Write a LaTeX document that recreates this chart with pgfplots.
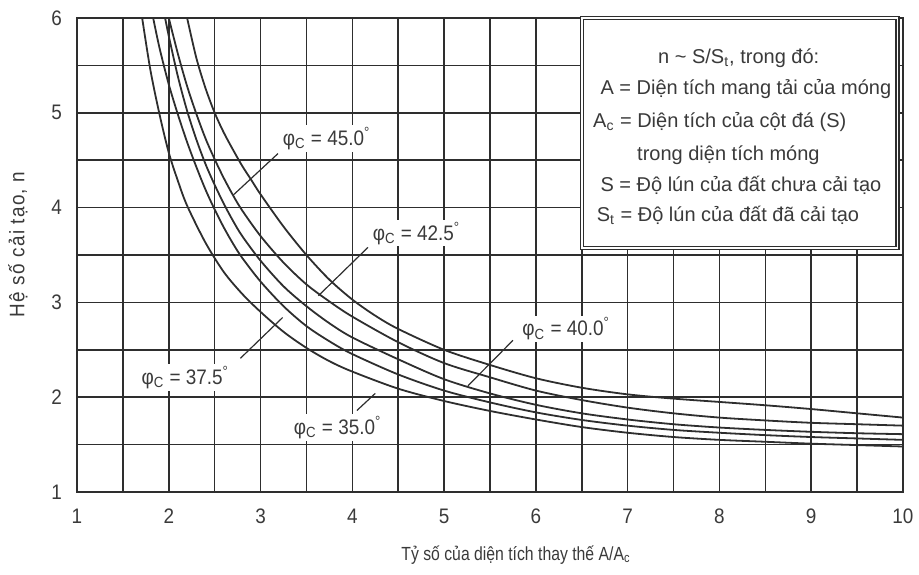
\documentclass[border=0pt]{standalone}
\usepackage{fontspec}
\setmainfont{Liberation Sans}
\newfontfamily\nfont{Liberation Sans}[FakeStretch=0.9]
\newfontfamily\xfont{Liberation Sans}[FakeStretch=0.83]
\newfontfamily\yfont{Liberation Sans}[FakeStretch=0.9, LetterSpace=6]
\usepackage{pgfplots}
\pgfplotsset{compat=1.18}
\definecolor{ink}{HTML}{2E2E2E}
\definecolor{txt}{HTML}{3A3A3A}
\tikzset{curve/.style={ink, line width=0.9pt, smooth, tension=0.5, no markers}}
\begin{document}
\begin{tikzpicture}
\path[use as bounding box] (-38.5pt,-41.25pt) rectangle (421pt,246pt);
\begin{axis}[
  at={(0pt,0pt)}, anchor=south west,
  width=413pt, height=237pt, scale only axis,
  xmin=1, xmax=10, ymin=1, ymax=6,
  xtick={1,...,10}, ytick={1,...,6},
  minor xtick={1.5,2.5,...,9.5}, minor ytick={1.5,2.5,...,5.5},
  grid=both,
  major grid style={line width=0.75pt, draw=ink},
  minor grid style={line width=0.75pt, draw=ink},
  axis line style={line width=0.75pt, draw=ink},
  major tick length=0pt, minor tick length=0pt,
  /pgf/number format/assume math mode=true,
  ticklabel style={font=\nfont\fontsize{10.5}{12}\selectfont, text=txt},
  xticklabel style={yshift=-5pt},
  yticklabel style={xshift=-4pt},
  clip mode=individual,
]
% phi_c = 35.0
\addplot[curve] coordinates {
(1.71,6.0) (1.8,5.45) (1.9,4.98) (2.0,4.58) (2.1,4.28) (2.2,4.02) (2.4,3.63) (2.6,3.32) (2.8,3.09) (3.0,2.90) (3.25,2.69) (3.5,2.52) (3.75,2.38) (4.0,2.27) (4.5,2.09) (5.0,1.96) (5.5,1.855) (6.0,1.765) (6.5,1.685) (7.0,1.625) (7.5,1.58) (8.0,1.55) (8.5,1.53) (9.0,1.51) (9.5,1.495) (10,1.48)};
% phi_c = 37.5
\addplot[curve] coordinates {
(1.83,6.0) (1.9,5.68) (2.0,5.30) (2.1,4.98) (2.2,4.69) (2.3,4.43) (2.4,4.19) (2.5,3.98) (2.6,3.79) (2.7,3.62) (2.8,3.47) (3.0,3.22) (3.25,2.96) (3.5,2.75) (3.75,2.59) (4.0,2.455) (4.5,2.24) (5.0,2.07) (5.5,1.945) (6.0,1.84) (6.5,1.76) (7.0,1.70) (7.5,1.655) (8.0,1.625) (8.5,1.60) (9.0,1.58) (9.5,1.565) (10,1.55)};
% phi_c = 40.0
\addplot[curve] coordinates {
(1.96,6.0) (2.0,5.81) (2.1,5.38) (2.2,5.02) (2.3,4.72) (2.4,4.46) (2.5,4.24) (2.6,4.04) (2.7,3.86) (2.8,3.70) (3.0,3.44) (3.25,3.17) (3.5,2.96) (3.75,2.78) (4.0,2.63) (4.5,2.40) (5.0,2.19) (5.5,2.04) (6.0,1.92) (6.5,1.83) (7.0,1.765) (7.5,1.715) (8.0,1.68) (8.5,1.655) (9.0,1.635) (9.5,1.62) (10,1.61)};
% phi_c = 42.5
\addplot[curve] coordinates {
(2.0,6.0) (2.1,5.62) (2.2,5.28) (2.3,4.99) (2.4,4.73) (2.5,4.51) (2.6,4.31) (2.7,4.13) (2.8,3.97) (3.0,3.70) (3.25,3.42) (3.5,3.19) (3.75,3.01) (4.0,2.85) (4.5,2.58) (5.0,2.36) (5.5,2.21) (6.0,2.07) (6.5,1.97) (7.0,1.89) (7.5,1.83) (8.0,1.785) (8.5,1.755) (9.0,1.73) (9.5,1.715) (10,1.70)};
% phi_c = 45.0
\addplot[curve] coordinates {
(2.2,6.0) (2.3,5.58) (2.4,5.26) (2.5,5.0) (2.6,4.79) (2.7,4.61) (2.8,4.44) (2.9,4.29) (3.0,4.14) (3.25,3.80) (3.5,3.50) (3.75,3.24) (4.0,3.03) (4.25,2.86) (4.5,2.72) (5.0,2.50) (5.5,2.34) (6.0,2.20) (6.5,2.10) (7.0,2.03) (7.5,1.985) (8.0,1.95) (8.5,1.915) (9.0,1.875) (9.5,1.83) (10,1.785)};

% leader lines
\draw[ink, line width=0.6pt] (axis cs:3.19,4.57) -- (axis cs:2.70,4.13);
\draw[ink, line width=0.6pt] (axis cs:4.17,3.58) -- (axis cs:3.63,3.07);
\draw[ink, line width=0.6pt] (axis cs:5.75,2.60) -- (axis cs:5.26,2.12);
\draw[ink, line width=0.6pt] (axis cs:2.78,2.41) -- (axis cs:3.24,2.84);
\draw[ink, line width=0.6pt] (axis cs:4.05,1.86) -- (axis cs:4.25,2.04);

% curve labels
\begin{scope}[every node/.style={font=\nfont\fontsize{10.5}{12}\selectfont, text=txt, fill=white, inner sep=1pt}]
\node at (axis cs:3.72,4.73) {φ\textsubscript{C} = 45.0\textsuperscript{°}};
\node at (axis cs:4.70,3.73) {φ\textsubscript{C} = 42.5\textsuperscript{°}};
\node at (axis cs:6.33,2.72) {φ\textsubscript{C} = 40.0\textsuperscript{°}};
\node at (axis cs:2.18,2.21) {φ\textsubscript{C} = 37.5\textsuperscript{°}};
\node at (axis cs:3.84,1.68) {φ\textsubscript{C} = 35.0\textsuperscript{°}};
\end{scope}

% legend box
\draw[ink, line width=0.6pt, double=white, double distance=0.9pt, fill=white] (axis cs:6.50,6.0) rectangle (axis cs:9.94,3.57);
\begin{scope}[every node/.style={font=\fontsize{10}{12}\selectfont, text=txt, inner sep=0pt}]
\node[anchor=base] at (axis cs:8.21,5.52) {n \textasciitilde{} S/S\textsubscript{t}, trong đó:};
\node[anchor=base west] at (axis cs:6.70,5.19) {A = Diện tích mang tải của móng};
\node[anchor=base west] at (axis cs:6.62,4.85) {A\textsubscript{c} = Diện tích của cột đá (S)};
\node[anchor=base west] at (axis cs:7.10,4.50) {trong diện tích móng};
\node[anchor=base west] at (axis cs:6.70,4.17) {S = Độ lún của đất chưa cải tạo};
\node[anchor=base west] at (axis cs:6.66,3.85) {S\textsubscript{t} = Độ lún của đất đã cải tạo};
\end{scope}
\end{axis}
\node[rotate=90, font=\yfont\fontsize{10.5}{12}\selectfont, text=txt] at (-29.5pt,123.75pt) {Hệ số cải tạo, n};
\node[font=\xfont\fontsize{9.5}{12}\selectfont, text=txt] at (219.5pt,-31.75pt) {Tỷ số của diện tích thay thế A/A\textsubscript{c}};
\end{tikzpicture}
\end{document}
